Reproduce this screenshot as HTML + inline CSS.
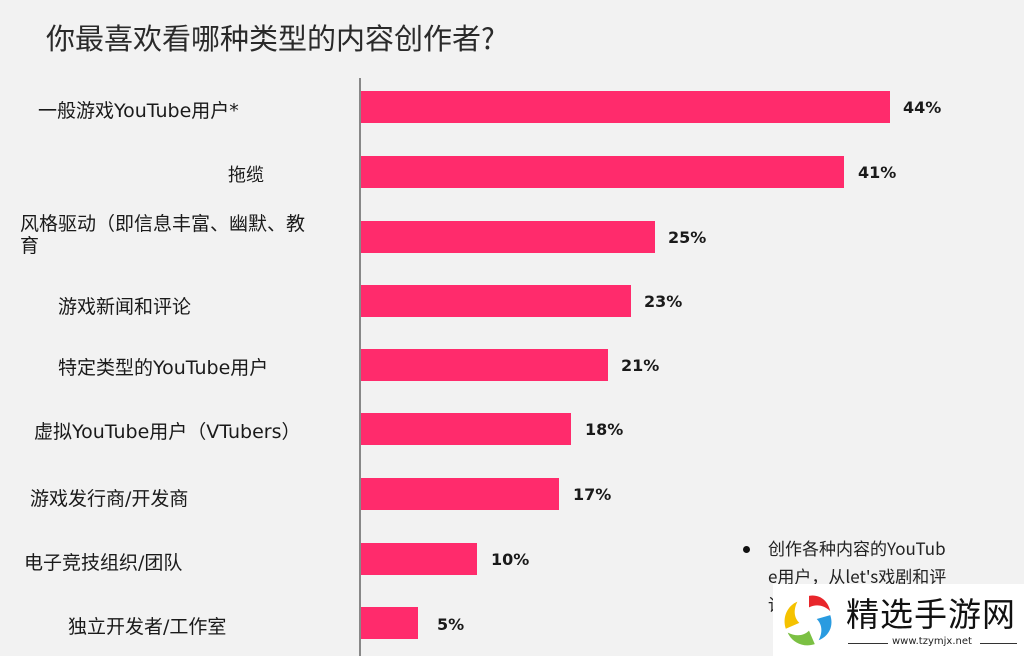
<!DOCTYPE html>
<html><head><meta charset="utf-8"><style>
body{margin:0;width:1024px;height:656px;background:#f2f2f2;position:relative;overflow:hidden;font-family:"DejaVu Sans","Noto Sans CJK SC",sans-serif;color:#222}
.t{position:absolute;white-space:nowrap}
.l{font-size:19px;color:#1a1a1a;font-family:"DejaVu Sans","Noto Sans CJK SC",sans-serif}
.b{position:absolute;left:361px;height:32px;background:#ff2b6c}
.v{position:absolute;font-weight:bold;font-size:16px;color:#1a1a1a;font-family:"DejaVu Sans",sans-serif}
</style></head><body>
<div class="t" style="left:46px;top:16px;font-size:29px;color:#2a2a2a;font-family:'Noto Sans CJK SC',sans-serif">你最喜欢看哪种类型的内容创作者?</div>
<div style="position:absolute;left:359px;top:78px;width:2px;height:578px;background:#888"></div>

<div class="b" style="top:91px;width:529px"></div><div class="v" style="left:903px;top:98px">44%</div>
<div class="b" style="top:156px;width:483px"></div><div class="v" style="left:858px;top:163px">41%</div>
<div class="b" style="top:221px;width:294px"></div><div class="v" style="left:668px;top:228px">25%</div>
<div class="b" style="top:285px;width:270px"></div><div class="v" style="left:644px;top:292px">23%</div>
<div class="b" style="top:349px;width:247px"></div><div class="v" style="left:621px;top:356px">21%</div>
<div class="b" style="top:413px;width:210px"></div><div class="v" style="left:585px;top:420px">18%</div>
<div class="b" style="top:478px;width:198px"></div><div class="v" style="left:573px;top:485px">17%</div>
<div class="b" style="top:543px;width:116px"></div><div class="v" style="left:491px;top:550px">10%</div>
<div class="b" style="top:607px;width:57px"></div><div class="v" style="left:437px;top:615px">5%</div>

<div class="t l" style="left:38px;top:96px">一般游戏YouTube用户*</div>
<div class="t l" style="left:228px;top:161px;font-size:18px">拖缆</div>
<div class="t l" style="left:20px;top:213px;line-height:22px">风格驱动（即信息丰富、幽默、教<br>育</div>
<div class="t l" style="left:58px;top:292px">游戏新闻和评论</div>
<div class="t l" style="left:58px;top:353px">特定类型的YouTube用户</div>
<div class="t l" style="left:34px;top:417px">虚拟YouTube用户（VTubers）</div>
<div class="t l" style="left:30px;top:484px">游戏发行商/开发商</div>
<div class="t l" style="left:24px;top:548px">电子竞技组织/团队</div>
<div class="t l" style="left:68px;top:612px">独立开发者/工作室</div>

<div style="position:absolute;left:743px;top:546px;width:7px;height:7px;border-radius:50%;background:#111"></div>
<div class="t" style="left:768px;top:534px;font-size:17px;line-height:28px;color:#222;font-family:'Noto Sans CJK SC',sans-serif">创作各种内容的YouTub<br>e用户，从let's戏剧和评<br>论</div>
<div style="position:absolute;left:773px;top:584px;width:251px;height:72px;background:#fff"></div>
<svg style="position:absolute;left:780px;top:590px" width="58" height="60" viewBox="0 0 60 62">
<path d="M30 6 C42 4 50 12 52 22 C46 16 38 14 30 18Z" fill="#e8262b"/>
<path d="M52 26 C56 38 50 48 40 52 C44 44 44 36 38 30Z" fill="#2a9be0"/>
<path d="M36 56 C24 60 12 54 8 44 C16 48 24 48 30 42Z" fill="#7bc043"/>
<path d="M6 40 C2 28 8 16 18 12 C14 20 14 28 20 34Z" fill="#f5c200"/>
</svg>
<div class="t" style="left:846px;top:588px;font-size:33px;color:#111;letter-spacing:1px;font-family:'Noto Sans CJK SC',sans-serif">精选手游网</div>
<div style="position:absolute;left:848px;top:643px;width:40px;height:1px;background:#333"></div>
<div class="t" style="left:892px;top:636px;font-size:10px;color:#222">www.tzymjx.net</div>
<div style="position:absolute;left:980px;top:643px;width:37px;height:1px;background:#333"></div>
</body></html>
